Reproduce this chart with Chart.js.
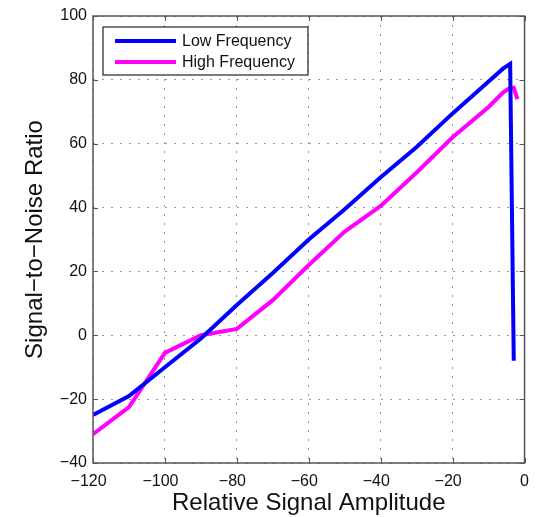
<!DOCTYPE html>
<html>
<head>
<meta charset="utf-8">
<script src="https://cdn.jsdelivr.net/npm/chart.js@4.4.0/dist/chart.umd.min.js"></script>
<style>
  html, body { margin: 0; padding: 0; background: #fff; }
  #wrap { width: 538px; height: 517px; }
</style>
</head>
<body>
<div id="wrap"><canvas id="myChart" width="538" height="517"></canvas></div>
<script>
// values
var lowX  = [-120, -110, -100, -90, -80, -70, -60, -50, -40, -30, -20, -10, -6, -4, -3];
var lowY  = [-25, -19, -10, -1, 9.5, 19.5, 30, 39.5, 49.5, 59, 69.5, 79.5, 83.5, 85, -8];
var highX = [-120, -110, -100, -90, -80, -70, -60, -50, -40, -30, -20, -10, -6, -4, -3, -2];
var highY = [-31, -22.5, -5.5, 0, 2, 11, 22, 32.5, 40.5, 51, 62, 71.5, 76, 77.5, 77.5, 74];
var seriesNames = ["Low Frequency", "High Frequency"];
var xTicks = [-120, -100, -80, -60, -40, -20, 0];
var yTicks = [-40, -20, 0, 20, 40, 60, 80, 100];

function toPoints(xs, ys) {
    var pts = [];
    for (var i = 0; i < xs.length; i++) {
        pts.push({x: xs[i], y: ys[i]});
    }
    return pts;
}

function minusSign(v) {
    return String(v).replace("-", "\u2212");
}

var fontFamily = "'Liberation Sans', Arial, sans-serif";
var frameColor = "#555";

// MATLAB-like frame: box on all sides + inward tick marks + boxed legend
var framePlugin = {
    id: "frame",
    afterDatasetsDraw: function(chart) {
        var ctx = chart.ctx;
        var a = chart.chartArea;
        var xs = chart.scales.x, ys = chart.scales.y;
        var len = 5;
        ctx.save();
        ctx.strokeStyle = frameColor;
        ctx.lineWidth = 1;
        ctx.beginPath();
        xTicks.forEach(function(t) {
            var px = Math.round(xs.getPixelForValue(t)) + 0.5;
            ctx.moveTo(px, a.bottom); ctx.lineTo(px, a.bottom - len);
            ctx.moveTo(px, a.top); ctx.lineTo(px, a.top + len);
        });
        yTicks.forEach(function(t) {
            var py = Math.round(ys.getPixelForValue(t)) + 0.5;
            ctx.moveTo(a.left, py); ctx.lineTo(a.left + len, py);
            ctx.moveTo(a.right, py); ctx.lineTo(a.right - len, py);
        });
        ctx.stroke();
        ctx.lineWidth = 1.5;
        ctx.strokeRect(a.left, a.top, a.right - a.left, a.bottom - a.top);

        // legend box
        var bx = a.left + 10, by = a.top + 11, bw = 205, bh = 48;
        ctx.fillStyle = "#fff";
        ctx.fillRect(bx, by, bw, bh);
        ctx.strokeStyle = "#222";
        ctx.lineWidth = 1.2;
        ctx.strokeRect(bx, by, bw, bh);
        var colors = [chart.data.datasets[0].borderColor, chart.data.datasets[1].borderColor];
        ctx.font = "16px " + fontFamily;
        ctx.textBaseline = "middle";
        for (var i = 0; i < seriesNames.length; i++) {
            var ly = by + 14 + i * 21;
            ctx.strokeStyle = colors[i];
            ctx.lineWidth = 4;
            ctx.beginPath();
            ctx.moveTo(bx + 12, ly);
            ctx.lineTo(bx + 73, ly);
            ctx.stroke();
            ctx.fillStyle = "#111";
            ctx.fillText(seriesNames[i], bx + 79, ly + 1);
        }
        ctx.restore();
    }
};

var ctx = document.getElementById("myChart");
var myChart = new Chart(ctx, {
    type: "scatter",
    data: {
        datasets: [
            {
                label: seriesNames[0],
                data: toPoints(lowX, lowY),
                showLine: true,
                borderColor: "#0000ff",
                backgroundColor: "#0000ff",
                borderWidth: 4,
                pointRadius: 0,
                tension: 0
            },
            {
                label: seriesNames[1],
                data: toPoints(highX, highY),
                showLine: true,
                borderColor: "#ff00ff",
                backgroundColor: "#ff00ff",
                borderWidth: 4,
                pointRadius: 0,
                tension: 0
            }
        ]
    },
    options: {
        responsive: false,
        animation: false,
        layout: { padding: { left: 0, right: 12, top: 16, bottom: 0 } },
        plugins: {
            legend: { display: false },
            tooltip: { enabled: false }
        },
        scales: {
            x: {
                type: "linear",
                min: -120,
                max: 0,
                afterBuildTicks: function(axis) {
                    axis.ticks = xTicks.map(function(v) { return {value: v}; });
                },
                afterFit: function(axis) { axis.height = 54; },
                grid: { color: "#999", lineWidth: 1, drawTicks: false },
                border: { display: false, dash: [2, 7] },
                ticks: {
                    padding: 9,
                    color: "#111",
                    font: { family: fontFamily, size: 16 },
                    maxRotation: 0,
                    // MATLAB centres the digits, so the minus hangs to the left
                    callback: function(v) { return v < 0 ? minusSign(v) + "  " : String(v); }
                },
                title: {
                    display: true,
                    text: "Relative Signal Amplitude",
                    color: "#111",
                    font: { family: fontFamily, size: 24, lineHeight: 1 },
                    padding: { top: 0, bottom: 1.5 }
                }
            },
            y: {
                type: "linear",
                min: -40,
                max: 100,
                afterBuildTicks: function(axis) {
                    axis.ticks = yTicks.map(function(v) { return {value: v}; });
                },
                afterFit: function(axis) { axis.width = 93; },
                grid: { color: "#999", lineWidth: 1, drawTicks: false },
                border: { display: false, dash: [2, 7] },
                ticks: {
                    padding: 6,
                    color: "#111",
                    font: { family: fontFamily, size: 16 },
                    callback: function(v) { return minusSign(v); }
                },
                title: {
                    display: true,
                    text: "Signal\u2212to\u2212Noise Ratio",
                    color: "#111",
                    font: { family: fontFamily, size: 24, lineHeight: 1 },
                    padding: { top: 23, bottom: 0 }
                }
            }
        }
    },
    plugins: [framePlugin]
});
</script>
</body>
</html>
